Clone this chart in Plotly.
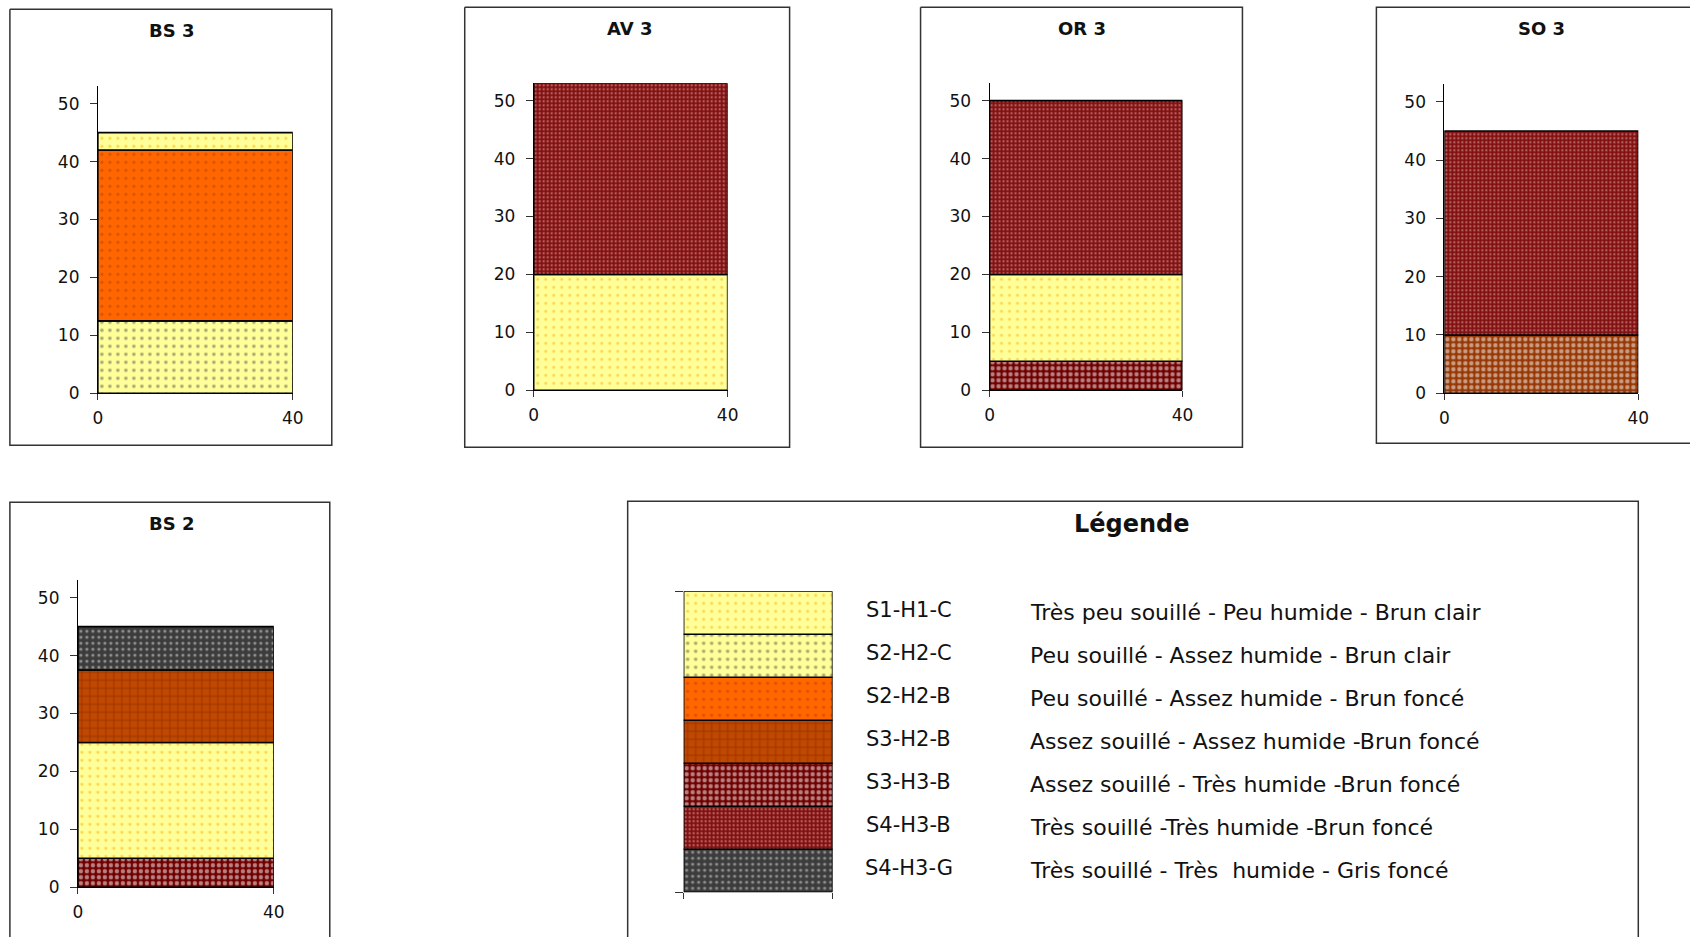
import plotly.graph_objects as go

# ---- Soil profile data (layer thickness in cm, listed bottom to top) ----
PROFILE_NAMES = ["BS 3", "AV 3", "OR 3", "SO 3", "BS 2"]
PROFILE_CODES = [
    ["S2-H2-C", "S2-H2-B", "S1-H1-C"],
    ["S1-H1-C", "S4-H3-B"],
    ["S3-H3-B", "S1-H1-C", "S4-H3-B"],
    ["S3-H3-B ocre", "S4-H3-B"],
    ["S3-H3-B", "S1-H1-C", "S3-H2-B", "S4-H3-G"],
]
PROFILE_THICKNESS = [
    [12.5, 29.5, 3],
    [20, 33],
    [5, 15, 30],
    [10, 35],
    [5, 20, 12.5, 7.5],
]
PROFILE_WIDTH = 40
Y_MAX = 53

# ---- Legend classes (top to bottom) ----
LEGEND_CODES = ["S1-H1-C", "S2-H2-C", "S2-H2-B", "S3-H2-B", "S3-H3-B", "S4-H3-B", "S4-H3-G"]
LEGEND_TEXT = [
    "Très peu souillé - Peu humide - Brun clair",
    "Peu souillé - Assez humide - Brun clair",
    "Peu souillé - Assez humide - Brun foncé",
    "Assez souillé - Assez humide -Brun foncé",
    "Assez souillé - Très humide -Brun foncé",
    "Très souillé -Très humide -Brun foncé",
    "Très souillé - Très  humide - Gris foncé",
]

# fill styles: background, pattern shape, dot colour, pattern cell size, solidity
STYLES = {
    "S1-H1-C": ("#FFFF99", ".", "#FFA800", 8, 0.12),
    "S2-H2-C": ("#FFFF99", ".", "#505050", 8, 0.16),
    "S2-H2-B": ("#FF6600", ".", "#A83C00", 8, 0.12),
    "S3-H2-B": ("#C04800", "+", "#7A2200", 8, 0.24),
    "S3-H3-B": ("#700000", ".", "#FFFFFF", 6, 0.42),
    "S3-H3-B ocre": ("#963805", ".", "#FFFFFF", 6, 0.42),
    "S4-H3-B": ("#821010", ".", "#E8B4B4", 4, 0.28),
    "S4-H3-G": ("#3C3C3C", ".", "#E6E6E6", 6, 0.22),
}

W, H = 1690, 937
FONT = "DejaVu Sans"

# pixel grid -> paper fractions
GRID_X0, GRID_SX = 4.1, 0.9909
GRID_Y0, GRID_SY = -0.3, 0.9894


def px_x(v):
    return (v - GRID_X0) / GRID_SX / W


def px_y(v):
    return 1 - (v - GRID_Y0) / GRID_SY / H


# plot areas in pixels: (left, right, top, bottom)
PANEL_AREAS = [
    (97, 292, 86, 393),
    (533, 727, 83, 390),
    (989, 1182, 83, 390),
    (1444, 1638, 84, 393),
    (77, 273, 580, 887),
]
EDGE_X, EDGE_Y = 1700, 945
# frame outlines as polylines (frames running off the page stay open there)
PANEL_FRAMES = [
    [(9, 9), (331, 9), (331, 445), (9, 445), (9, 9)],
    [(464, 7), (789, 7), (789, 447), (464, 447), (464, 7)],
    [(920, 7), (1242, 7), (1242, 447), (920, 447), (920, 7)],
    [(EDGE_X, 7), (1376, 7), (1376, 443), (EDGE_X, 443)],
    [(9, EDGE_Y), (9, 502), (329, 502), (329, EDGE_Y)],
]
TITLE_POS = [(171, 30), (629, 28), (1081, 28), (1541, 28), (171, 523)]
LEGEND_AREA = (683, 832, 591, 892)
LEGEND_FRAME = [(627, EDGE_Y), (627, 501), (1638, 501), (1638, EDGE_Y)]

fig = go.Figure()
layout = dict(
    width=W, height=H, margin=dict(l=0, r=0, t=0, b=0),
    paper_bgcolor="white", plot_bgcolor="rgba(0,0,0,0)",
    showlegend=False, barmode="overlay",
    font=dict(family=FONT, color="#111111"),
    shapes=[], annotations=[],
)


def frame_shape(points):
    path = "M " + " L ".join(f"{px_x(x):.6f},{px_y(y):.6f}" for x, y in points)
    return dict(type="path", xref="paper", yref="paper", path=path,
                line=dict(color="#333333", width=1.5), layer="below")


def add_layer(code, base, thick, xa, ya):
    bg, shape, fg, size, sol = STYLES[code]
    fig.add_trace(go.Bar(
        x=[PROFILE_WIDTH / 2], y=[thick], base=[base], width=[PROFILE_WIDTH],
        marker=dict(color=bg, line=dict(color="black", width=1.6),
                    pattern=dict(shape=shape, fgcolor=fg, size=size,
                                 solidity=sol, fillmode="overlay")),
        xaxis=xa, yaxis=ya, hoverinfo="skip",
    ))


for i, (name, codes, thick) in enumerate(zip(PROFILE_NAMES, PROFILE_CODES, PROFILE_THICKNESS)):
    n = i + 1
    xa, ya = f"x{n}", f"y{n}"
    base = 0
    for c, t in zip(codes, thick):
        add_layer(c, base, t, xa, ya)
        base += t
    l, r, t_, b = PANEL_AREAS[i]
    layout[f"xaxis{n}"] = dict(
        domain=[px_x(l), px_x(r)], anchor=ya, range=[0, PROFILE_WIDTH],
        tickvals=[0, PROFILE_WIDTH], ticks="outside", ticklen=6, tickcolor="#333",
        showline=True, linecolor="black", linewidth=1, showgrid=False, zeroline=False,
        tickfont=dict(size=17, color="#111"), ticklabelstandoff=3, fixedrange=True,
    )
    layout[f"yaxis{n}"] = dict(
        domain=[px_y(b), px_y(t_)], anchor=xa, range=[0, Y_MAX],
        tickvals=[0, 10, 20, 30, 40, 50], ticks="outside", ticklen=7, tickcolor="#333",
        showline=True, linecolor="black", linewidth=1, showgrid=False, zeroline=False,
        tickfont=dict(size=17, color="#111"), ticklabelstandoff=7, fixedrange=True,
    )
    layout["shapes"].append(frame_shape(PANEL_FRAMES[i]))
    tx, ty = TITLE_POS[i]
    layout["annotations"].append(dict(
        text=f"<b>{name}</b>", xref="paper", yref="paper",
        x=px_x(tx), y=px_y(ty), showarrow=False,
        xanchor="center", yanchor="middle", font=dict(size=18, color="#111"),
    ))

# ---- Legend column: one unit-high layer per class ----
n = len(PROFILE_NAMES) + 1
xa, ya = f"x{n}", f"y{n}"
nclass = len(LEGEND_CODES)
for k, code in enumerate(reversed(LEGEND_CODES)):
    add_layer(code, k, 1, xa, ya)
l, r, t_, b = LEGEND_AREA
layout[f"xaxis{n}"] = dict(
    domain=[px_x(l), px_x(r)], anchor=ya, range=[0, PROFILE_WIDTH],
    tickvals=[0, PROFILE_WIDTH], ticks="outside", ticklen=6, tickcolor="#333",
    showticklabels=False, showline=False, showgrid=False, zeroline=False, fixedrange=True,
)
layout[f"yaxis{n}"] = dict(
    domain=[px_y(b), px_y(t_)], anchor=xa, range=[0, nclass],
    tickvals=[0, nclass], ticks="outside", ticklen=8, tickcolor="#333",
    showticklabels=False, showline=False, showgrid=False, zeroline=False, fixedrange=True,
)
layout["shapes"].append(frame_shape(LEGEND_FRAME))
layout["annotations"].append(dict(
    text="<b>Légende</b>", xref="paper", yref="paper",
    x=px_x(1132), y=px_y(524), showarrow=False,
    xanchor="center", yanchor="middle", font=dict(size=24, color="#111"),
))
for k, (code, desc) in enumerate(zip(LEGEND_CODES, LEGEND_TEXT)):
    yc = nclass - k - 0.5
    layout["annotations"].append(dict(
        text=code, xref="paper", yref=ya, x=px_x(908), y=yc + 0.06,
        showarrow=False, xanchor="center", yanchor="middle",
        font=dict(size=21, color="#111"),
    ))
    layout["annotations"].append(dict(
        text=desc, xref="paper", yref=ya, x=px_x(1027), y=yc,
        showarrow=False, xanchor="left", yanchor="middle",
        font=dict(size=22, color="#111"),
    ))

fig.update_layout(**layout)
fig.write_html("out.html")
